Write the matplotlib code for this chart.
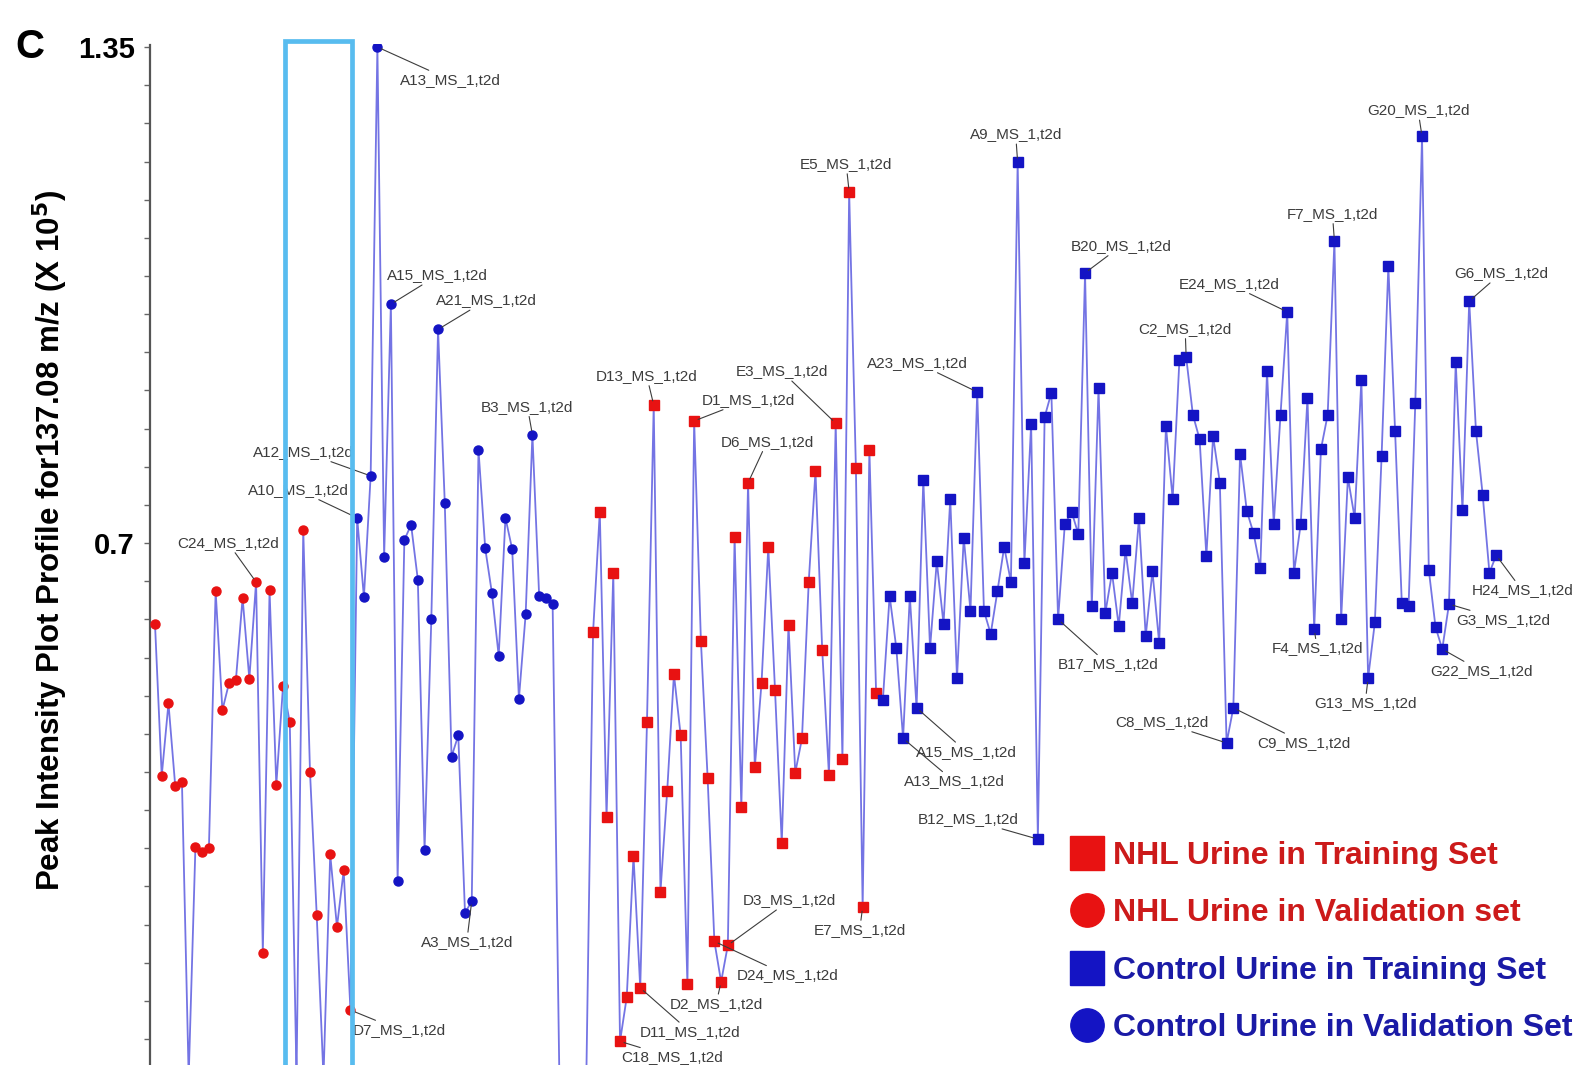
import numpy as np
import matplotlib.pyplot as plt
from matplotlib.lines import Line2D
from matplotlib.patches import Rectangle

# peak intensity (x 10^5) for m/z 137.08, samples in plotting order
intensity = [
    0.594, 0.395, 0.490, 0.382, 0.387, 0.000, 0.302, 0.295, 0.300, 0.637,
    0.481, 0.517, 0.520, 0.628, 0.522, 0.649, 0.163, 0.638, 0.383, 0.513,
    0.465, 0.000, 0.717, 0.400, 0.212, 0.000, 0.292, 0.197, 0.271, 0.088,
    0.733, 0.629, 0.788, 1.350, 0.682, 1.013, 0.257, 0.704, 0.724, 0.652,
    0.298, 0.600, 0.980, 0.752, 0.420, 0.448, 0.215, 0.231, 0.822, 0.693,
    0.634, 0.552, 0.733, 0.692, 0.496, 0.607, 0.842, 0.631, 0.628, 0.620,
    0.000, 0.000, 0.000, 0.000, 0.000, 0.583, 0.741, 0.341, 0.661, 0.047,
    0.105, 0.290, 0.117, 0.465, 0.881, 0.243, 0.375, 0.528, 0.448, 0.122,
    0.860, 0.572, 0.392, 0.178, 0.125, 0.173, 0.708, 0.354, 0.779, 0.406,
    0.517, 0.695, 0.507, 0.307, 0.593, 0.399, 0.444, 0.649, 0.794, 0.560,
    0.396, 0.857, 0.417, 1.160, 0.798, 0.223, 0.822, 0.503, 0.494, 0.631,
    0.562, 0.444, 0.631, 0.484, 0.783, 0.562, 0.676, 0.594, 0.758, 0.523,
    0.707, 0.611, 0.898, 0.611, 0.581, 0.637, 0.695, 0.649, 1.199, 0.674,
    0.856, 0.312, 0.865, 0.897, 0.600, 0.725, 0.741, 0.712, 1.054, 0.617,
    0.903, 0.608, 0.661, 0.591, 0.691, 0.621, 0.733, 0.578, 0.663, 0.569,
    0.853, 0.758, 0.940, 0.944, 0.868, 0.836, 0.683, 0.840, 0.779, 0.438,
    0.484, 0.817, 0.742, 0.713, 0.667, 0.925, 0.725, 0.868, 1.003, 0.661,
    0.725, 0.890, 0.587, 0.823, 0.868, 1.096, 0.600, 0.786, 0.733, 0.914,
    0.523, 0.596, 0.814, 1.063, 0.847, 0.621, 0.617, 0.883, 1.233, 0.665,
    0.590, 0.561, 0.620, 0.937, 0.743, 1.017, 0.847, 0.763, 0.661, 0.684,
]

# groups in the order the samples were run
group_names = ['NHL Urine in Validation set', 'Control Urine in Validation Set',
               'NHL Urine in Training Set', 'Control Urine in Training Set']
group_sizes = [30, 30, 48, 92]

# labelled samples (index into intensity)
label_idx = [33, 35, 42, 56, 32, 30, 15, 47, 29, 74, 80, 101, 88, 103, 122,
             128, 138, 153, 168, 175, 188, 195, 199, 192, 191, 180, 172, 160,
             159, 134, 113, 111, 131, 105, 85, 83, 84, 72, 69]
label_text = ['A13_MS_1,t2d', 'A15_MS_1,t2d', 'A21_MS_1,t2d', 'B3_MS_1,t2d',
              'A12_MS_1,t2d', 'A10_MS_1,t2d', 'C24_MS_1,t2d', 'A3_MS_1,t2d',
              'D7_MS_1,t2d', 'D13_MS_1,t2d', 'D1_MS_1,t2d', 'E3_MS_1,t2d',
              'D6_MS_1,t2d', 'E5_MS_1,t2d', 'A23_MS_1,t2d', 'A9_MS_1,t2d',
              'B20_MS_1,t2d', 'C2_MS_1,t2d', 'E24_MS_1,t2d', 'F7_MS_1,t2d',
              'G20_MS_1,t2d', 'G6_MS_1,t2d', 'H24_MS_1,t2d', 'G3_MS_1,t2d',
              'G22_MS_1,t2d', 'G13_MS_1,t2d', 'F4_MS_1,t2d', 'C9_MS_1,t2d',
              'C8_MS_1,t2d', 'B17_MS_1,t2d', 'A15_MS_1,t2d', 'A13_MS_1,t2d',
              'B12_MS_1,t2d', 'E7_MS_1,t2d', 'D3_MS_1,t2d', 'D24_MS_1,t2d',
              'D2_MS_1,t2d', 'D11_MS_1,t2d', 'C18_MS_1,t2d']

# text offsets from the point, in pixels
label_offset = [(73, -33), (47, 29), (48, 29), (-5, 28), (-67, 24), (-59, 28),
                (-28, 39), (-5, -41), (49, -20), (-7, 29), (54, 21), (-54, 52),
                (19, 41), (-3, 28), (-60, 29), (-2, 28), (36, 27), (-1, 28),
                (-58, 28), (-2, 27), (-4, 26), (32, 28), (26, -35), (54, -16),
                (39, -22), (-3, -25), (3, -19), (71, -35), (-65, 21), (50, -45),
                (50, -44), (51, -43), (-70, 20), (-3, -23), (62, 45), (73, -34),
                (-5, -22), (50, -44), (52, -16)]

group_style = {
    'NHL Urine in Validation set': ('o', '#e81212', 6.5),
    'Control Urine in Validation Set': ('o', '#1414c4', 6.5),
    'NHL Urine in Training Set': ('s', '#e81212', 7),
    'Control Urine in Training Set': ('s', '#1414c4', 7),
}

W, H = 1573, 1065
fig = plt.figure(figsize=(W / 100, H / 100), dpi=100)
ax = fig.add_axes([150 / W, 0, 1 - 150 / W, (H - 44) / H])

x = np.arange(len(intensity))
y = np.array(intensity)
ax.plot(x, y, color='#7474e4', lw=1.3, zorder=2)

start = 0
for name, n in zip(group_names, group_sizes):
    m, c, ms = group_style[name]
    sl = slice(start, start + n)
    ax.plot(x[sl], y[sl], ls='none', marker=m, ms=ms, color=c, mec=c, zorder=3)
    start += n

label_font = dict(family='Liberation Sans', size=11, color='#3c3c3c')
for i, txt, off in zip(label_idx, label_text, label_offset):
    ax.annotate(txt, (x[i], y[i]), xytext=off, textcoords='offset pixels',
                ha='center', va='center', annotation_clip=False,
                arrowprops=dict(arrowstyle='-', color='#3c3c3c', lw=0.8,
                                shrinkA=0, shrinkB=3),
                **label_font)

# highlighted block of samples
ax.add_patch(Rectangle((19.3, 0.0), 9.9, 1.358, fill=False, ec='#58bcef',
                       lw=3.4, zorder=6, clip_on=False))

ax.set_xlim(-0.74, 210.4)
ax.set_ylim(0.016, 1.354)
ax.set_xticks([])
ax.set_yticks([0.7, 1.35])
ax.set_yticklabels(['0.7', '1.35'], fontsize=21, fontweight='bold',
                   family='Liberation Sans')
ax.set_yticks(np.arange(0.05, 1.351, 0.05), minor=True)
ax.tick_params(axis='y', which='both', direction='out', length=4, width=1,
               color='#666666', pad=7)
for s in ['top', 'right', 'bottom']:
    ax.spines[s].set_visible(False)
ax.spines['left'].set_linestyle((0, (1, 1)))
ax.spines['left'].set_color('#555555')
ax.spines['left'].set_linewidth(1.6)

ax.set_ylabel(r'Peak Intensity Plot Profile for137.08 m/z (X 10$^{\mathbf{5}}$)',
              fontsize=22.5, fontweight='bold', family='Liberation Sans',
              va='center')
ax.yaxis.set_label_coords(-100 / (W - 150), (H - 540) / (H - 44))

fig.text(30 / W, 1 - 47 / H, 'C', fontsize=29, fontweight='bold',
         family='Liberation Sans', ha='center', va='center')

# legend
handles = []
order = [2, 0, 3, 1]
for k in order:
    m, c, ms = group_style[group_names[k]]
    handles.append(Line2D([], [], ls='none', marker=m, ms=24, color=c, mec=c))
leg = ax.legend(handles, [group_names[k] for k in order], loc='upper left',
                bbox_to_anchor=(1071 / W, 1 - 841 / H),
                bbox_transform=fig.transFigure, frameon=False,
                prop=dict(family='Liberation Sans', weight='bold', size=23),
                handlelength=1.0, handletextpad=0.3, labelspacing=0.86,
                borderpad=0, borderaxespad=0,
                labelcolor=['#cc1a1a', '#cc1a1a', '#1a1aa6', '#1a1aa6'])
leg.set_zorder(7)

fig.savefig('out.png', dpi=100)
